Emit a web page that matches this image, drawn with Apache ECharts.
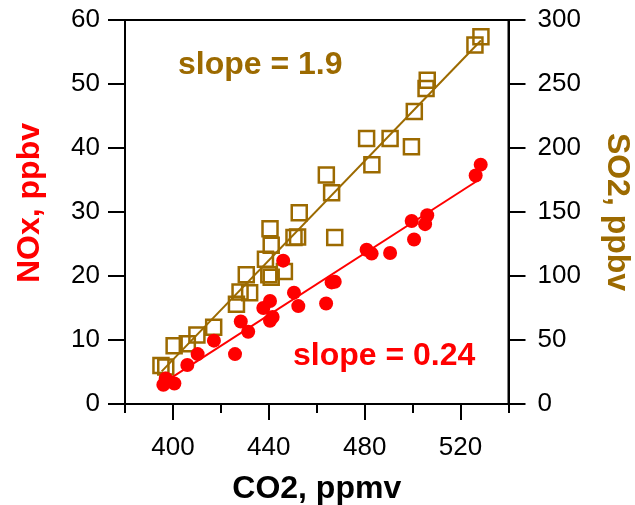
<!DOCTYPE html>
<html>
<head>
<meta charset="utf-8">
<script src="https://cdn.jsdelivr.net/npm/echarts@6/dist/echarts.min.js"></script>
<style>html,body{margin:0;padding:0;background:#fff}#c{width:635px;height:505px}</style>
</head>
<body>
<div id="c"></div>
<script>
// CO2 (ppmv) vs NOx (ppbv) - red circles
var noxData = [
  [396, 3.0], [397, 4.0], [400.6, 3.2], [406, 6.1], [410.3, 7.8], [417.1, 9.9],
  [425.9, 7.8], [428.3, 12.9], [431.4, 11.3], [437.7, 15.0], [440.5, 16.1],
  [440.5, 13.0], [441.6, 13.6], [446, 22.4], [450.5, 17.4], [452.3, 15.3],
  [463.9, 15.7], [466.2, 19.0], [467.5, 19.1], [480.8, 24.1], [482.9, 23.5],
  [490.6, 23.6], [499.6, 28.6], [500.6, 25.7], [505.2, 28.1], [506.1, 29.5],
  [526.3, 35.7], [528.4, 37.4]
];
// CO2 (ppmv) vs SO2 (ppbv) - gold squares
var so2Data = [
  [395, 30], [397, 29], [400.5, 45.5], [406, 47], [410, 54], [417, 60],
  [426.5, 78], [428, 87.5], [432, 87], [430.6, 101], [438.6, 113], [440, 101],
  [441, 99], [441, 124], [440.5, 137], [446.5, 103.5], [450.5, 130], [452, 130.5],
  [452.7, 149.5], [464, 179], [466.2, 165], [467.5, 130], [480.8, 207.5],
  [483, 187], [490.6, 207.5], [499.5, 201], [500.7, 228.5], [505.6, 246.5],
  [506.1, 253], [526, 280.5], [528.5, 287]
];
// fitted lines (endpoints)
var noxFit = [[396, 3.3], [527.5, 35.0]];
var so2Fit = [[395.3, 25.5], [528.5, 284]];

var xMajorTicks = [400, 440, 480, 520];
var xMinorTicks = [380, 420, 460, 500, 540];
var noxLabel = 'slope = 0.24';
var so2Label = 'slope = 1.9';

var RED = '#ff0000';
var GOLD = '#9c6a00';
var FONT = 'Liberation Sans, Arial, Helvetica, sans-serif';

var chart = echarts.init(document.getElementById('c'));
chart.setOption({
  animation: false,
  backgroundColor: '#fff',
  grid: {left: 125, right: 126.5, top: 20, bottom: 101, show: true, borderColor: '#000', borderWidth: 2,
         containLabel: false, outerBoundsMode: 'none'},
  xAxis: [{
    type: 'value', position: 'bottom', min: 380, max: 540,
    name: 'CO2, ppmv', nameLocation: 'middle', nameGap: 69,
    nameTextStyle: {fontFamily: FONT, fontSize: 32, fontWeight: 'bold', color: '#000'},
    axisLine: {show: true, lineStyle: {color: '#000', width: 2}},
    axisTick: {show: true, length: 16, lineStyle: {color: '#000', width: 2}, customValues: xMajorTicks},
    axisLabel: {fontFamily: FONT, fontSize: 26, color: '#000', margin: 31, customValues: xMajorTicks},
    splitLine: {show: false}
  }, {
    type: 'value', position: 'bottom', min: 380, max: 540,
    axisLine: {show: false},
    axisTick: {show: true, length: 9, lineStyle: {color: '#000', width: 2}, customValues: xMinorTicks},
    axisLabel: {show: false},
    splitLine: {show: false}
  }],
  yAxis: [{
    type: 'value', position: 'left', min: 0, max: 60, interval: 10,
    name: 'NOx, ppbv', nameLocation: 'middle', nameGap: 79, nameRotate: 90,
    nameTextStyle: {fontFamily: FONT, fontSize: 32, fontWeight: 'bold', color: RED, padding: [0, 0, 0, 18]},
    axisLine: {show: true, lineStyle: {color: '#000', width: 2}},
    axisTick: {show: true, length: 17, lineStyle: {color: '#000', width: 2}},
    axisLabel: {fontFamily: FONT, fontSize: 26, color: '#000', margin: 25},
    splitLine: {show: false}
  }, {
    type: 'value', position: 'right', min: 0, max: 300, interval: 50,
    name: 'SO2, ppbv', nameLocation: 'middle', nameGap: 92, nameRotate: -90,
    nameTextStyle: {fontFamily: FONT, fontSize: 32, fontWeight: 'bold', color: GOLD},
    axisLine: {show: true, lineStyle: {color: '#000', width: 2}},
    axisTick: {show: true, length: 17, lineStyle: {color: '#000', width: 2}},
    axisLabel: {fontFamily: FONT, fontSize: 26, color: '#000', margin: 29},
    splitLine: {show: false}
  }],
  series: [{
    name: 'SO2', type: 'scatter', xAxisIndex: 0, yAxisIndex: 1, data: so2Data,
    symbol: 'rect', symbolSize: 15, z: 2,
    itemStyle: {color: 'rgba(255,255,255,0)', borderColor: GOLD, borderWidth: 2.5, opacity: 1}
  }, {
    name: 'SO2 fit', type: 'line', xAxisIndex: 0, yAxisIndex: 1, data: so2Fit,
    showSymbol: false, symbol: 'none', z: 3,
    lineStyle: {color: GOLD, width: 2}
  }, {
    name: 'NOx', type: 'scatter', xAxisIndex: 0, yAxisIndex: 0, data: noxData,
    symbol: 'circle', symbolSize: 14, z: 4,
    itemStyle: {color: RED, opacity: 1}
  }, {
    name: 'NOx fit', type: 'line', xAxisIndex: 0, yAxisIndex: 0, data: noxFit,
    showSymbol: false, symbol: 'none', z: 5,
    lineStyle: {color: RED, width: 2}
  }],
  graphic: [{
    type: 'text', left: 178, top: 49, z: 10,
    style: {text: so2Label, fill: GOLD, font: 'bold 32px ' + FONT}
  }, {
    type: 'text', left: 293, top: 340, z: 10,
    style: {text: noxLabel, fill: RED, font: 'bold 32px ' + FONT}
  }]
});
</script>
</body>
</html>
